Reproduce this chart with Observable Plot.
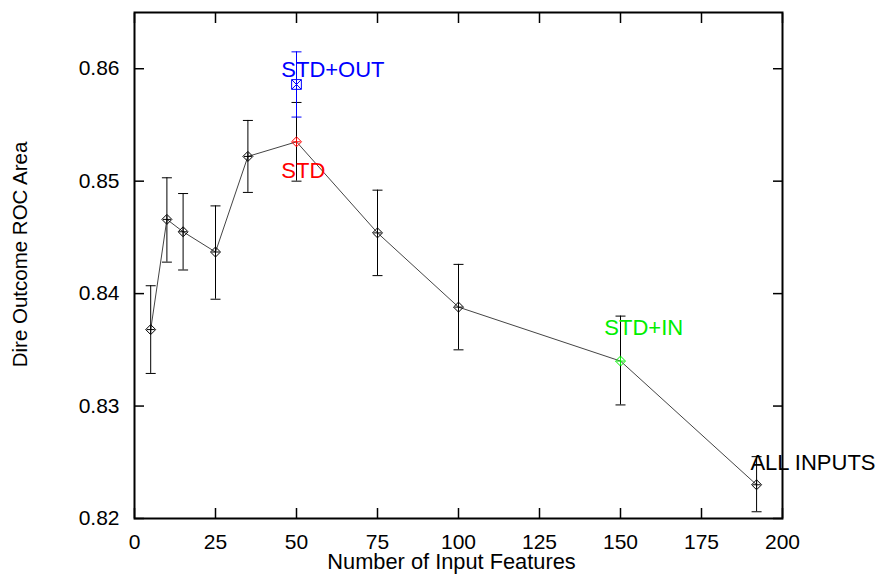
<!DOCTYPE html>
<html><head><meta charset="utf-8">
<script src="https://cdn.jsdelivr.net/npm/d3@7"></script>
<script src="https://cdn.jsdelivr.net/npm/@observablehq/plot@0.6"></script>
<style>body{margin:0;background:#fff} svg{display:block}</style>
</head><body><div id="chart"></div>
<script>
// Main series: number of input features vs. dire outcome ROC area
const features = [5, 10, 15, 25, 35, 50, 75, 100, 150, 192];
const rocArea  = [0.8368, 0.8466, 0.8455, 0.8437, 0.8522, 0.8535, 0.8454, 0.8388, 0.8340, 0.8230];
const rocLow   = [0.8329, 0.8428, 0.8421, 0.8395, 0.8490, 0.8500, 0.8416, 0.8350, 0.8301, 0.8206];
const rocHigh  = [0.8407, 0.8503, 0.8489, 0.8478, 0.8554, 0.8570, 0.8492, 0.8426, 0.8380, 0.8255];
const pointSet = ["base","base","base","base","base","STD","base","base","STD+IN","ALL INPUTS"];

// Extra point: STD+OUT
const outFeatures = [50];
const outRoc  = [0.8586];
const outLow  = [0.8557];
const outHigh = [0.8615];

// Annotation labels
const labelText = ["STD+OUT", "STD", "STD+IN", "ALL INPUTS"];
const labelX    = [45.3, 45.3, 145, 190.1];
const labelY    = [0.8593, 0.8503, 0.8363, 0.8243];

// Tick values
const xTicks = [0, 25, 50, 75, 100, 125, 150, 175, 200];
const yTicks = [0.82, 0.83, 0.84, 0.85, 0.86];

const colorOf = {"base": "#000000", "STD": "#ff0000", "STD+IN": "#00ee00", "ALL INPUTS": "#000000", "STD+OUT": "#0000ff"};

const main = features.map((f, i) => ({x: f, y: rocArea[i], lo: rocLow[i], hi: rocHigh[i], set: pointSet[i]}));
const outs = outFeatures.map((f, i) => ({x: f, y: outRoc[i], lo: outLow[i], hi: outHigh[i], set: "STD+OUT"}));
const labels = labelText.map((t, i) => ({text: t, x: labelX[i], y: labelY[i]}));

const capSymbol = {draw(ctx) { ctx.moveTo(-5, 0); ctx.lineTo(5, 0); }};

const font = "'Liberation Sans', Arial, Helvetica, sans-serif";

const chart = Plot.plot({
  width: 880, height: 575,
  marginLeft: 134, marginRight: 98, marginTop: 12, marginBottom: 57,
  style: {fontFamily: font, fontSize: "21px", color: "#000", background: "#fff", overflow: "visible"},
  x: {domain: [0, 200]},
  y: {domain: [0.82, 0.865]},
  marks: [
    // error bars
    Plot.ruleX(main, {x: "x", y1: "lo", y2: "hi", stroke: "#000", strokeWidth: 1}),
    Plot.dot(main, {x: "x", y: "lo", symbol: capSymbol, stroke: "#000", strokeWidth: 1, r: 3}),
    Plot.dot(main, {x: "x", y: "hi", symbol: capSymbol, stroke: "#000", strokeWidth: 1, r: 3}),
    Plot.ruleX(outs, {x: "x", y1: "lo", y2: "hi", stroke: "#0000ff", strokeWidth: 1}),
    Plot.dot(outs, {x: "x", y: "lo", symbol: capSymbol, stroke: "#0000ff", strokeWidth: 1, r: 3}),
    Plot.dot(outs, {x: "x", y: "hi", symbol: capSymbol, stroke: "#0000ff", strokeWidth: 1, r: 3}),
    // connecting line
    Plot.line(main, {x: "x", y: "y", stroke: "#444", strokeWidth: 1}),
    // markers
    Plot.dot(main, {x: "x", y: "y", symbol: "diamond2", r: 4.5, stroke: d => colorOf[d.set], strokeWidth: 1, fill: "none"}),
    Plot.dot(main, {x: "x", y: "y", symbol: "plus", r: 2.7, stroke: d => colorOf[d.set], strokeWidth: 1}),
    Plot.dot(outs, {x: "x", y: "y", symbol: "square2", r: 6.2, stroke: "#0000ff", strokeWidth: 1, fill: "none"}),
    Plot.dot(outs, {x: "x", y: "y", symbol: "times", r: 4.4, stroke: "#0000ff", strokeWidth: 1}),
    // annotations
    Plot.text(labels, {x: "x", y: "y", text: "text", textAnchor: "start", lineAnchor: "bottom",
      fontSize: 22, fill: d => colorOf[d.text] ?? "#000"}),
    // axes with inward ticks
    Plot.axisX({ticks: xTicks, tickSize: -10, tickPadding: 26, tickFormat: d => String(d), label: null, strokeWidth: 1.5}),
    Plot.axisX({anchor: "top", ticks: xTicks, tickSize: -10, tickFormat: () => "", label: null, strokeWidth: 1.5}),
    Plot.axisY({ticks: yTicks, tickSize: -10, tickPadding: 25, tickFormat: d => d.toFixed(2), label: null, strokeWidth: 1.5}),
    Plot.axisY({anchor: "right", ticks: yTicks, tickSize: -10, tickFormat: () => "", label: null, strokeWidth: 1.5}),
    Plot.frame({stroke: "#000", strokeWidth: 2}),
    // axis titles
    Plot.text(["Number of Input Features"], {frameAnchor: "bottom", dy: 50, dx: -7, lineAnchor: "bottom", textAnchor: "middle", fontSize: 21.8}),
    Plot.text(["Dire Outcome ROC Area"], {frameAnchor: "left", rotate: -90, dx: -114, dy: -11, lineAnchor: "middle", textAnchor: "middle", fontSize: 20.5})
  ]
});
document.getElementById("chart").append(chart);
</script>
</body></html>
